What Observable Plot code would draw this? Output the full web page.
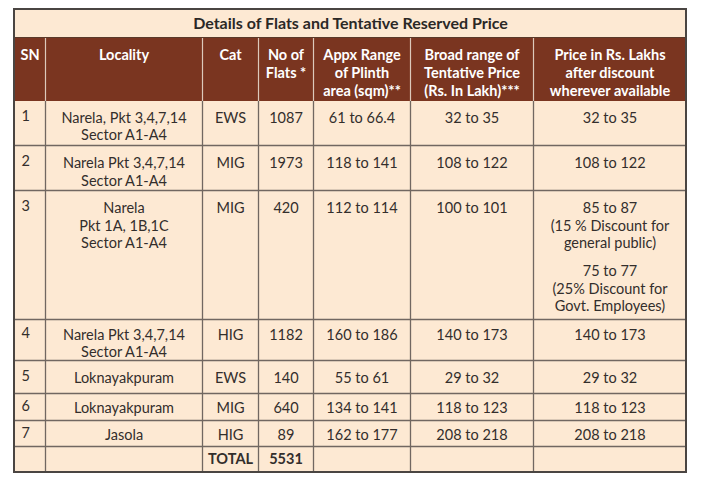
<!DOCTYPE html>
<html>
<head>
<meta charset="utf-8">
<script src="https://cdn.jsdelivr.net/npm/d3@7"></script>
<script src="https://cdn.jsdelivr.net/npm/@observablehq/plot@0.6"></script>
<style>
  html, body { margin: 0; padding: 0; background: #ffffff; }
  #chart svg { display: block; }
</style>
</head>
<body>
<div id="chart"></div>
<script>
// ---------------- data ----------------
const title = "Details of Flats and Tentative Reserved Price";
const headers = [
  "SN", "Locality", "Cat", "No of\nFlats *", "Appx Range\nof Plinth\narea (sqm)**",
  "Broad range of\nTentative Price\n(Rs. In Lakh)***", "Price in Rs. Lakhs\nafter discount\nwherever available"
];
const sn = ["1", "2", "3", "4", "5", "6", "7"];
const locality = [
  "Narela, Pkt 3,4,7,14\nSector A1-A4",
  "Narela Pkt 3,4,7,14\nSector A1-A4",
  "Narela\nPkt 1A, 1B,1C\nSector A1-A4",
  "Narela Pkt 3,4,7,14\nSector A1-A4",
  "Loknayakpuram",
  "Loknayakpuram",
  "Jasola"
];
const cat = ["EWS", "MIG", "MIG", "HIG", "EWS", "MIG", "HIG"];
const flats = [1087, 1973, 420, 1182, 140, 640, 89];
const plinth = ["61 to 66.4", "118 to 141", "112 to 114", "160 to 186", "55 to 61", "134 to 141", "162 to 177"];
const price = ["32 to 35", "108 to 122", "100 to 101", "140 to 173", "29 to 32", "118 to 123", "208 to 218"];
const discounted = [
  ["32 to 35"],
  ["108 to 122"],
  ["85 to 87\n(15 % Discount for\ngeneral public)", "75 to 77\n(25% Discount for\nGovt. Employees)"],
  ["140 to 173"],
  ["29 to 32"],
  ["118 to 123"],
  ["208 to 218"]
];
const totalLabel = "TOTAL";

// ---------------- layout (pixels) ----------------
const W = 701, H = 479;
const colEdges = [14, 45, 202, 258, 313, 410, 533, 686];
const titleTop = 9, headTop = 37, headBottom = 101;
const rowEdges = [101, 145, 190, 319, 360, 393, 420, 446, 472];
const rowPad = [15.5, 17, 17, 14.5];   // first-line centre offset for multi-line rows
const FS = 14.5;      // body font size
const LH = 17.4;      // body line height px
const HFS = 14.5;     // header font size
const HLH = 18;       // header line height
const font = "Lato, 'Open Sans', sans-serif";
const toTop = (center, fs) => center - 0.35 * fs - 1.5;   // first-line centre -> text top

const nCols = colEdges.length - 1;
const nRows = rowEdges.length - 1;
const colMid = i => (colEdges[i] + colEdges[i + 1]) / 2;

const snTexts = [], bodyTexts = [], boldTexts = [];
for (let r = 0; r < sn.length; r++) {
  const top = rowEdges[r];
  const h = rowEdges[r + 1] - top;
  const firstC = h < 40 ? top + h / 2 + 0.5 : top + rowPad[r];
  const y = toTop(firstC, FS);
  snTexts.push({x: colEdges[0] + 7, y, text: sn[r]});
  [locality[r], cat[r], String(flats[r]), plinth[r], price[r]].forEach((t, i) => {
    bodyTexts.push({x: colMid(i + 1), y, text: t});
  });
  let yy = y;
  discounted[r].forEach((t) => {
    bodyTexts.push({x: colMid(6), y: yy, text: t});
    yy += t.split("\n").length * LH + 11;
  });
}
const tTop = rowEdges[nRows - 1], tBot = rowEdges[nRows];
const tY = toTop((tTop + tBot) / 2 + 1, FS);
boldTexts.push({x: colMid(2), y: tY, text: totalLabel});
boldTexts.push({x: colMid(3), y: tY, text: String(d3.sum(flats))});

const headerTexts = headers.map((t, c) => ({x: colMid(c), y: toTop(53.5, HFS), text: t}));

const innerCols = colEdges.slice(1, -1);
const innerRows = rowEdges.slice(1, -1);
const box = (x1, x2, y1, y2) => [{x1, x2, y1, y2}];
const R = {x1: "x1", x2: "x2", y1: "y1", y2: "y2"};

const chart = Plot.plot({
  width: W,
  height: H,
  margin: 0,
  x: {domain: [0, W], range: [0, W], axis: null},
  y: {domain: [0, H], range: [0, H], axis: null},
  style: {fontFamily: font, background: "#ffffff"},
  marks: [
    Plot.rect(box(colEdges[0], colEdges[nCols], titleTop, headTop), {...R, fill: "#fde9d3"}),
    Plot.rect(box(colEdges[0], colEdges[nCols], headTop, headBottom), {...R, fill: "#7a3520"}),
    Plot.rect(box(colEdges[0], colEdges[nCols], headBottom, rowEdges[nRows]), {...R, fill: "#fde9d3"}),
    Plot.ruleX(innerCols, {x: d => d, y1: headTop, y2: headBottom, stroke: "#dcc9bb", strokeWidth: 1.2}),
    Plot.ruleX(innerCols, {x: d => d, y1: headBottom, y2: rowEdges[nRows], stroke: "#716761", strokeWidth: 1.3}),
    Plot.ruleY(innerRows, {y: d => d, x1: colEdges[0], x2: colEdges[nCols], stroke: "#716761", strokeWidth: 1.3}),
    Plot.ruleY([headTop], {y: d => d, x1: colEdges[0], x2: colEdges[nCols], stroke: "#5a3a2a", strokeWidth: 1.2}),
    Plot.rect(box(colEdges[0], colEdges[nCols], titleTop, rowEdges[nRows]),
      {...R, fill: "none", stroke: "#4a4542", strokeWidth: 2}),
    Plot.text([title], {x: (colEdges[0] + colEdges[nCols]) / 2, y: toTop(24.5, 16), text: d => d,
      lineAnchor: "top", fontSize: 16, fontWeight: "bold", fill: "#2b2826"}),
    Plot.text(headerTexts, {x: "x", y: "y", text: "text", lineAnchor: "top", lineHeight: HLH / HFS,
      fontSize: HFS, fontWeight: "bold", fill: "#ffffff"}),
    Plot.text(snTexts, {x: "x", y: "y", text: "text", textAnchor: "start", lineAnchor: "top",
      fontSize: FS, fill: "#332e2c"}),
    Plot.text(bodyTexts, {x: "x", y: "y", text: "text", lineAnchor: "top",
      lineHeight: LH / FS, fontSize: FS, fill: "#332e2c"}),
    Plot.text(boldTexts, {x: "x", y: "y", text: "text", lineAnchor: "top",
      fontSize: FS, fontWeight: "bold", fill: "#332e2c"})
  ]
});
document.getElementById("chart").appendChild(chart);
</script>
</body>
</html>
